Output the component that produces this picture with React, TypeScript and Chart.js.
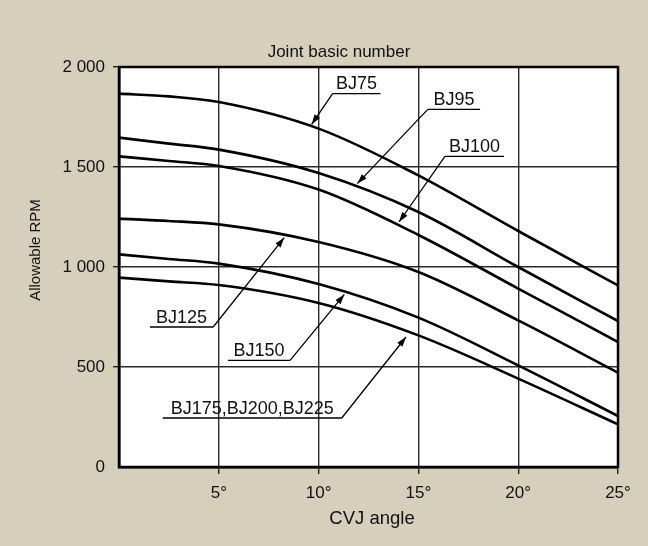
import React, { useEffect, useRef } from "react";
import { Chart, registerables } from "chart.js";

Chart.register(...registerables);

// ---- data ----
const angles = [0, 2.5, 5, 10, 15, 20, 25];
const bj75 = [1867, 1853, 1825, 1692, 1458, 1180, 908];
const bj95 = [1647, 1617, 1587, 1470, 1275, 1000, 730];
const bj100 = [1553, 1530, 1505, 1387, 1160, 892, 625];
const bj125 = [1242, 1230, 1213, 1125, 975, 733, 472];
const bj150 = [1063, 1040, 1017, 915, 747, 508, 255];
const bj175 = [947, 928, 910, 820, 658, 442, 213];

const seriesNames = ["BJ75", "BJ95", "BJ100", "BJ125", "BJ150", "BJ175,BJ200,BJ225"];
const seriesValues = [bj75, bj95, bj100, bj125, bj150, bj175];

// callout labels (data units)
const labelTexts = ["BJ75", "BJ95", "BJ100", "BJ125", "BJ150", "BJ175,BJ200,BJ225"];
const labelTipX = [9.65, 11.94, 14.03, 8.28, 11.29, 14.38];
const labelTipY = [1713, 1417, 1225, 1147, 863, 650];
const labelLineX1 = [10.7, 15.47, 16.33, 1.55, 5.46, 2.19];
const labelLineX2 = [13.1, 18.09, 19.29, 4.72, 8.57, 11.16];
const labelLineY = [1867, 1788, 1553, 700, 533, 245];
const labelJoin = ["left", "left", "left", "right", "right", "right"];

const chartTitle = "Joint basic number";
const xTitle = "CVJ angle";
const yTitle = "Allowable RPM";

const BG = "#d6cfbc";
const FONT = "'Liberation Sans', Arial, Helvetica, sans-serif";
const FS = 17;

const fmtThousands = (v: number) => String(v).replace(/\B(?=(\d{3})+(?!\d))/g, " ");

const decor = {
  id: "decor",
  beforeDraw(chart: any) {
    const { ctx, chartArea: a, width, height } = chart;
    ctx.save();
    ctx.fillStyle = BG;
    ctx.fillRect(0, 0, width, height);
    ctx.fillStyle = "#ffffff";
    ctx.fillRect(a.left, a.top, a.right - a.left, a.bottom - a.top);
    ctx.restore();
  },
  afterDraw(chart: any) {
    const { ctx, chartArea: a } = chart;
    const xs = chart.scales.x;
    const ys = chart.scales.y;
    ctx.save();
    // frame
    ctx.strokeStyle = "#000";
    ctx.lineWidth = 2.5;
    ctx.strokeRect(a.left, a.top, a.right - a.left, a.bottom - a.top);

    // titles
    ctx.fillStyle = "#111";
    ctx.textAlign = "center";
    ctx.textBaseline = "middle";
    ctx.font = `${FS}px ${FONT}`;
    ctx.fillText(chartTitle, 339, 52);
    ctx.font = `18.5px ${FONT}`;
    ctx.fillText(xTitle, 372, 519);
    ctx.save();
    ctx.font = `15px ${FONT}`;
    ctx.translate(36, 250);
    ctx.rotate(-Math.PI / 2);
    ctx.fillText(yTitle, 0, 0);
    ctx.restore();

    // callouts
    ctx.font = `18px ${FONT}`;
    for (let i = 0; i < labelTexts.length; i++) {
      const tx = xs.getPixelForValue(labelTipX[i]);
      const ty = ys.getPixelForValue(labelTipY[i]);
      const x1 = xs.getPixelForValue(labelLineX1[i]);
      const x2 = xs.getPixelForValue(labelLineX2[i]);
      const ly = ys.getPixelForValue(labelLineY[i]);
      const jx = labelJoin[i] === "left" ? x1 : x2;
      ctx.strokeStyle = "#000";
      ctx.lineWidth = 1.3;
      ctx.beginPath();
      ctx.moveTo(x1, ly);
      ctx.lineTo(x2, ly);
      ctx.moveTo(jx, ly);
      ctx.lineTo(tx, ty);
      ctx.stroke();
      // arrow head
      const ang = Math.atan2(ty - ly, tx - jx);
      const L = 10;
      const W = 3.2;
      ctx.fillStyle = "#000";
      ctx.beginPath();
      ctx.moveTo(tx, ty);
      ctx.lineTo(tx - L * Math.cos(ang) + W * Math.sin(ang), ty - L * Math.sin(ang) - W * Math.cos(ang));
      ctx.lineTo(tx - L * Math.cos(ang) - W * Math.sin(ang), ty - L * Math.sin(ang) + W * Math.cos(ang));
      ctx.closePath();
      ctx.fill();
      // text
      ctx.fillStyle = "#111";
      ctx.textAlign = "center";
      ctx.textBaseline = "alphabetic";
      ctx.fillText(labelTexts[i], (x1 + x2) / 2, ly - 4.5);
    }
    ctx.restore();
  },
};

export default function App() {
  const ref = useRef<HTMLCanvasElement | null>(null);

  useEffect(() => {
    if (!ref.current) return;
    Chart.defaults.font.family = FONT;
    const tickColor = (c: any) => (c.tick && c.tick.value === 0 ? "rgba(0,0,0,0)" : "#222");
    const chart = new Chart(ref.current, {
      type: "line",
      data: {
        datasets: seriesValues.map((vals, i) => ({
          label: seriesNames[i],
          data: angles.map((a, j) => ({ x: a, y: vals[j] })),
          borderColor: "#000",
          borderWidth: 2.6,
          pointRadius: 0,
          fill: false,
          cubicInterpolationMode: "monotone" as const,
        })),
      },
      options: {
        animation: false,
        responsive: false,
        events: [],
        layout: { padding: { top: 67, right: 30, left: 0, bottom: 0 } },
        plugins: {
          legend: { display: false },
          title: { display: false },
          tooltip: { enabled: false },
        },
        scales: {
          x: {
            type: "linear",
            min: 0,
            max: 25,
            afterFit: (s: any) => {
              s.height = 79;
            },
            ticks: {
              stepSize: 5,
              color: "#111",
              font: { size: FS },
              padding: 9,
              maxRotation: 0,
              callback: (v: any) => (v === 0 ? "" : `${v}°`),
            },
            grid: {
              color: "#2a2a2a",
              lineWidth: 1.4,
              tickLength: 7,
              tickColor,
              tickWidth: 1.4,
            },
            border: { display: true, color: "#000", width: 2.5 },
          },
          y: {
            min: 0,
            max: 2000,
            afterFit: (s: any) => {
              s.width = 119;
            },
            ticks: {
              stepSize: 500,
              color: "#111",
              font: { size: FS },
              padding: 8,
              callback: (v: any) => fmtThousands(Number(v)),
            },
            grid: {
              color: "#2a2a2a",
              lineWidth: 1.4,
              tickLength: 6,
              tickColor,
              tickWidth: 1.4,
            },
            border: { display: true, color: "#000", width: 2.5 },
          },
        },
      },
      plugins: [decor],
    });
    return () => chart.destroy();
  }, []);

  return (
    <div style={{ position: "fixed", left: 0, top: 0, width: 648, height: 546, background: BG }}>
      <canvas ref={ref} width={648} height={546} />
    </div>
  );
}
